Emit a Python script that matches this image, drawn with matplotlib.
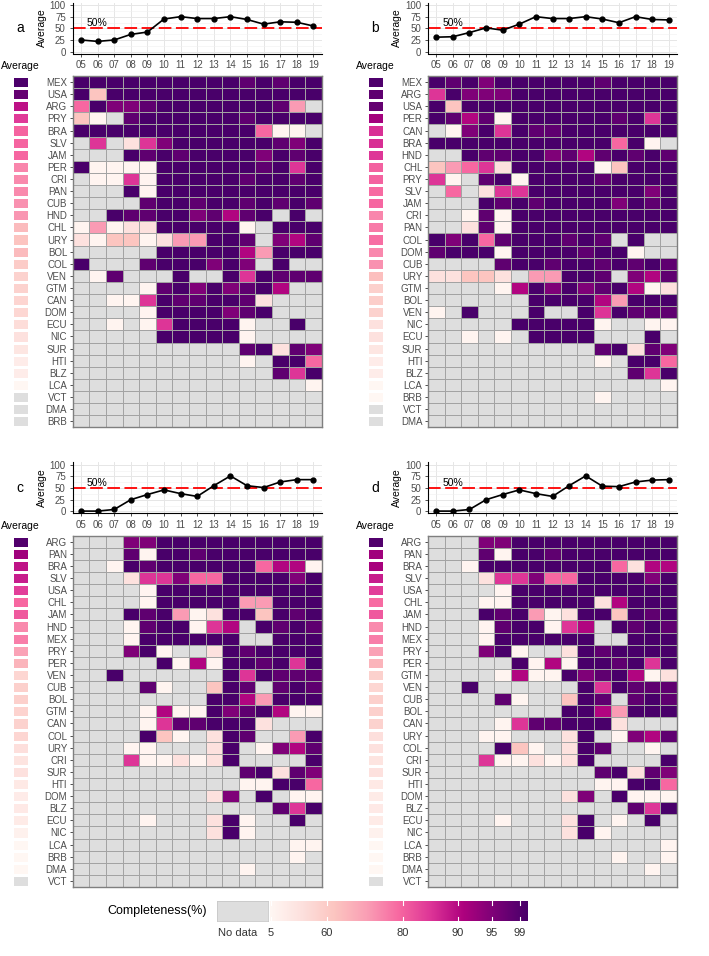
import numpy as np
import matplotlib
matplotlib.use('Agg')
import matplotlib.pyplot as plt

plt.rcParams['font.family'] = ['Liberation Sans', 'DejaVu Sans']

# years on the x axis of every panel
years = ['05', '06', '07', '08', '09', '10', '11', '12', '13', '14', '15', '16', '17', '18', '19']

# completeness levels ('.' = no data)
level = {'.': np.nan, '0': 8, '1': 35, '2': 62, '3': 71, '4': 79, '5': 85,
         '6': 90.5, '7': 95, '8': 98, '9': 100}

# panel a
rows_a = ['MEX', 'USA', 'ARG', 'PRY', 'BRA', 'SLV', 'JAM', 'PER', 'CRI', 'PAN', 'CUB', 'HND',
          'CHL', 'URY', 'BOL', 'COL', 'VEN', 'GTM', 'CAN', 'DOM', 'ECU', 'NIC', 'SUR', 'HTI',
          'BLZ', 'LCA', 'VCT', 'DMA', 'BRB']
cells_a = ["99999 99999 89899", "92999 99999 99999", "49778 99999 9983.", "20.89 99999 89999",
           "99999 99999 9400.", ".5.15 79999 99879", "...98 98999 97989", "90000 99999 98959",
           ".0050 99999 89989", "...90 99999 99999", "....8 99899 89898", "..988 99786 89.9.",
           "03011 99999 0.999", "10220 13399 8.768", "..... 99999 63999", "9...8 99979 7.9..",
           ".08.. .9..9 59888", "....0 89797 896..", "..005 98899 81...", "....0 99997 89...",
           "..0.0 59999 0..9.", "..... 99999 0....", "..... ..... 89187", "..... ..... 0.994",
           "..... ..... ..859", "..... ..... ....0", "..... ..... .....", "..... ..... .....",
           "..... ..... ....."]
line_a = [25, 22, 25, 37, 42, 70, 75, 71, 71, 75, 69, 59, 64, 63, 55]

# panel b
rows_b = ['MEX', 'ARG', 'USA', 'PER', 'CAN', 'BRA', 'HND', 'CHL', 'PRY', 'SLV', 'JAM', 'CRI',
          'PAN', 'COL', 'DOM', 'CUB', 'URY', 'GTM', 'BOL', 'VEN', 'NIC', 'ECU', 'SUR', 'HTI',
          'BLZ', 'LCA', 'BRB', 'VCT', 'DMA']
cells_b = ["98979 99999 89999", "59777 99999 99999", "92999 99999 99999", "98680 99999 98959",
           ".0795 98899 99999", "99999 99999 9490.", "..988 99786 89898", "23451 99999 02999",
           "50.89 09999 89999", ".4.15 59999 99979", "...98 98999 97989", "..080 99999 99999",
           "..180 99999 99999", "97948 99989 8.9..", "89990 99998 990..", "....8 99899 89898",
           "11221 .3399 8.768", "....0 69797 89601", "..... .9999 63999", "0.9.. .9..9 59888",
           "..... 99999 0..00", "..0.0 .9999 ...9.", "..... ..... 89187", "..... ..... 0.994",
           "..... ..... ..859", "..... ..... ....0", "..... ..... 0....", "..... ..... .....",
           "..... ..... ....."]
line_b = [31, 32, 41, 51, 46, 59, 75, 71, 71, 75, 70, 62, 75, 69, 68]

# panel c
rows_c = ['ARG', 'PAN', 'BRA', 'SLV', 'USA', 'CHL', 'JAM', 'HND', 'MEX', 'PRY', 'PER', 'VEN',
          'CUB', 'BOL', 'GTM', 'CAN', 'COL', 'URY', 'CRI', 'SUR', 'HTI', 'DOM', 'BLZ', 'ECU',
          'NIC', 'LCA', 'BRB', 'DMA', 'VCT']
cells_c = ["...77 99999 99999", "...80 99899 99999", "..098 99999 94660", "...15 57449 99979",
           "....0 99999 99999", "....0 99999 33999", "...98 93019 92989", "...08 99056 .9898",
           "...09 99999 ..999", "...79 0..19 89999", "..... 90609 98959", "..9.. ....9 59888",
           "....8 0..29 8.898", "..... ...99 63999", "....0 60097 89600", "....0 58899 91...",
           "....9 20.19 8..39", "...00 ...19 .0768", "...50 01019 ....9", "..... ..... 89187",
           "..... ..... 00994", "..... ...17 .9.00", "..... ..... ..859", "....0 ...19 0..9.",
           "..... ...19 0....", "..... ..... ...00", "..... ..... ...0.", "..... ..... 0....",
           "..... ..... ....."]
line_c = [0.5, 0.5, 4, 25, 36, 46, 38, 32, 55, 76, 55, 51, 63, 68, 68]

# panel d
rows_d = ['ARG', 'PAN', 'BRA', 'SLV', 'USA', 'CHL', 'JAM', 'HND', 'MEX', 'PRY', 'PER', 'GTM',
          'VEN', 'CUB', 'BOL', 'CAN', 'URY', 'COL', 'CRI', 'SUR', 'HTI', 'DOM', 'BLZ', 'ECU',
          'NIC', 'LCA', 'BRB', 'DMA', 'VCT']
cells_d = ["...77 99999 99999", "...80 99899 99999", "..099 99999 94166", "...15 57449 99979",
           "....0 99999 99999", "...00 99999 16999", "...98 93019 92989", "...08 99056 .9898",
           "...09 99999 ..999", "...79 0..19 89999", "..... 90609 98959", "....0 60097 89601",
           "..9.. ....9 59888", "....8 0..29 8.898", "..... ...99 63999", "....0 58899 91...",
           "...00 ...19 .0768", "....9 20.19 8..0.", "...50 01019 ....9", "..... ..... 89187",
           "..... ..... 00994", "..... ...17 .9000", "..... ..... ..859", "....0 ...19 .0.9.",
           "..... ...19 0....", "..... ..... ....0", "..... ..... .0..0", "..... ..... ...0.",
           "..... ..... ....."]
line_d = [0.5, 0.5, 4, 25, 36, 46, 38, 32, 55, 76, 54, 53, 63, 67, 68]

# first year used for the row averages of each panel
avg_start = {'a': '05', 'b': '05', 'c': '08', 'd': '08'}

# colour scale of the legend (value -> position along the bar)
scale_vals = [5, 60, 80, 90, 95, 99, 100]
scale_pos = [0.004, 0.221, 0.516, 0.729, 0.860, 0.969, 1.0]
legend_ticks = [5, 60, 80, 90, 95, 99]

NODATA = '#dedede'
cmap = plt.get_cmap('RdPu').copy()
cmap.set_bad(NODATA)


def decode(cells):
    out = []
    for r in cells:
        r = r.replace(' ', '')
        r = (r + '.' * 15)[:15]
        out.append([level[c] for c in r])
    return np.array(out, dtype=float)


def to_frac(v):
    f = np.interp(np.nan_to_num(v, nan=0), scale_vals, scale_pos, left=0, right=1)
    return np.ma.masked_where(np.isnan(v), f)


W, H = 709, 956
fig = plt.figure(figsize=(W / 100, H / 100), dpi=100)


def px_ax(x0, y0, x1, y1):
    return fig.add_axes([x0 / W, 1 - y1 / H, (x1 - x0) / W, (y1 - y0) / H])


panels = [('a', rows_a, cells_a, line_a, 0, 0), ('b', rows_b, cells_b, line_b, 355.3, 0),
          ('c', rows_c, cells_c, line_c, 0, 459.7), ('d', rows_d, cells_d, line_d, 355.3, 459.7)]

for letter, rows, cells, avg_line, dx, dy in panels:
    vals = decode(cells)
    nr = len(rows)

    # top: yearly average line
    ax = px_ax(72.7 + dx, 2.7 + dy, 321.7 + dx, 53.5 + dy)
    ax.set_xlim(-0.5, 14.5)
    ax.set_ylim(-4, 105)
    ax.set_yticks([0, 25, 50, 75, 100])
    ax.set_yticks([12.5, 37.5, 62.5, 87.5], minor=True)
    ax.set_xticks(range(15))
    ax.set_xticklabels(years)
    ax.grid(True, which='major', color='#e6e6e6', lw=0.7)
    ax.grid(True, which='minor', axis='y', color='#f0f0f0', lw=0.4)
    ax.set_axisbelow(True)
    for s in ['top', 'right']:
        ax.spines[s].set_visible(False)
    for s in ['left', 'bottom']:
        ax.spines[s].set_color('black')
        ax.spines[s].set_linewidth(0.8)
    ax.tick_params(which='major', labelsize=7, labelcolor='#4d4d4d', color='#333333',
                   length=2.5, width=0.6, pad=2.5)
    ax.tick_params(which='minor', length=0)
    ax.axhline(50, color='red', lw=1.3, dashes=(7, 2.5))
    ax.plot(range(15), avg_line, color='black', lw=1.2, marker='o', ms=3.5, zorder=5)
    ax.text(0.35, 54, '50%', fontsize=7.5, ha='left', va='baseline')
    fig.text((42 + dx) / W, 1 - (28 + dy) / H, 'Average', rotation=90, fontsize=7.5,
             ha='center', va='center')
    fig.text((20 + dx) / W, 1 - (28.5 + dy) / H, letter, fontsize=10, ha='center', va='center')

    # heatmap of completeness
    hm = px_ax(72.7 + dx, 76 + dy, 321.7 + dx, 427.3 + dy)
    hm.pcolormesh(np.arange(16) - 0.5, np.arange(nr + 1) - 0.5, to_frac(vals), cmap=cmap,
                  vmin=0, vmax=1, edgecolors='#a3a3a3', linewidth=0.55)
    hm.set_xlim(-0.5, 14.5)
    hm.set_ylim(nr - 0.5, -0.5)
    hm.set_xticks([])
    hm.set_yticks(range(nr))
    hm.set_yticklabels(rows)
    hm.tick_params(labelsize=7, labelcolor='#4d4d4d', color='#333333', length=2.5, width=0.6,
                   pad=1.5)
    for s in hm.spines.values():
        s.set_color('#7f7f7f')
        s.set_linewidth(1.0)

    # row averages (no data counted as 0) over the panel's period
    part = vals[:, years.index(avg_start[letter]):]
    row_avg = np.nansum(part, axis=1) / part.shape[1]
    row_avg[np.all(np.isnan(part), axis=1)] = np.nan
    av = px_ax(12 + dx, 76 + dy, 29 + dx, 427.3 + dy)
    av.pcolormesh([0, 1], np.arange(nr + 1) - 0.5, to_frac(row_avg)[:, None], cmap=cmap,
                  vmin=0, vmax=1, edgecolors='white', linewidth=1.0)
    av.set_xlim(0, 1)
    av.set_ylim(nr - 0.5, -0.5)
    av.axis('off')
    fig.text((20.5 + dx) / W, 1 - (66 + dy) / H, 'Average', fontsize=7.5, ha='center',
             va='center')

# legend
fig.text(207 / W, 1 - 911 / H, 'Completeness(%)', fontsize=9, ha='right', va='center')
nd = px_ax(217, 901, 268, 921)
nd.set_facecolor(NODATA)
nd.set_xticks([])
nd.set_yticks([])
for s in nd.spines.values():
    s.set_color('#c8c8c8')
    s.set_linewidth(0.6)
fig.text(218 / W, 1 - 933 / H, 'No data', fontsize=8, color='#333333', ha='left', va='center')

cb = px_ax(270, 901, 528, 921)
cb.imshow(np.linspace(0, 1, 512)[None, :], cmap=cmap, aspect='auto', extent=(0, 1, 0, 1))
cb.set_xlim(0, 1)
cb.set_ylim(0, 1)
cb.axis('off')
for t in legend_ticks:
    p = np.interp(t, scale_vals, scale_pos)
    cb.plot([p, p], [0, 0.2], color='white', lw=0.8)
    cb.plot([p, p], [0.8, 1], color='white', lw=0.8)
    fig.text((270 + p * 258) / W, 1 - 933 / H, str(t), fontsize=8, color='#333333',
             ha='center', va='center')

fig.savefig('out.png', dpi=100)
